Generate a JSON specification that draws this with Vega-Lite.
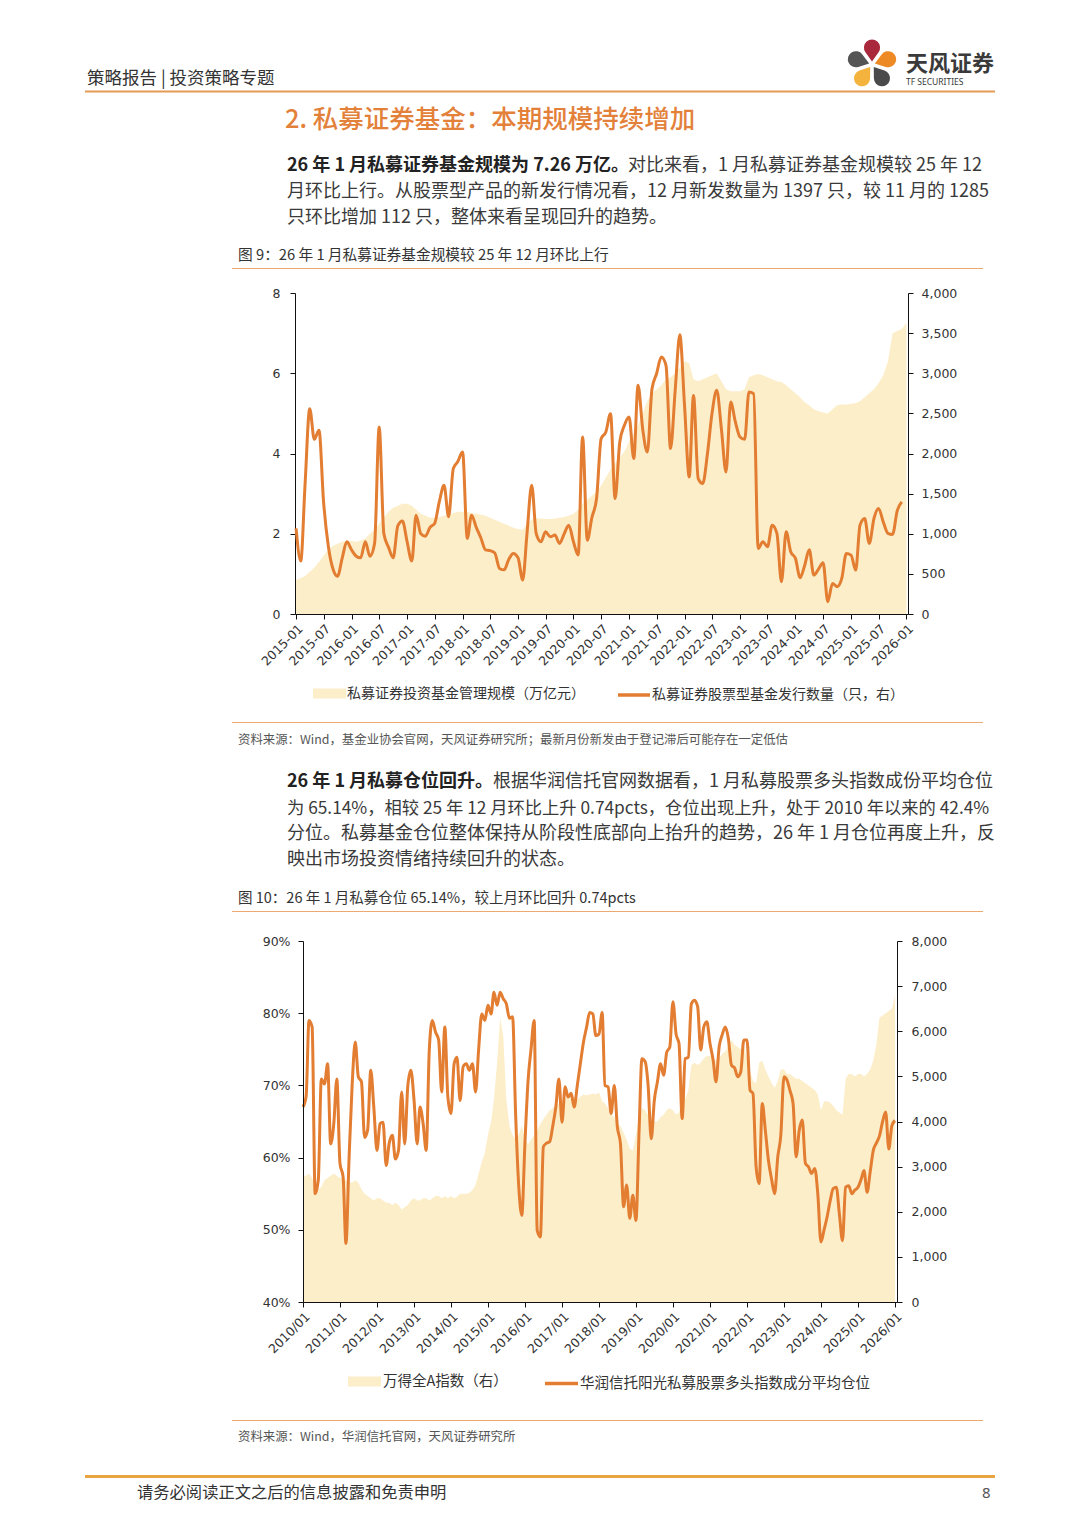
{
"$schema": "https://vega.github.io/schema/vega-lite/v6.json",
"padding": 0,
"background": "white",
"bounds": "flush",
"spacing": 0,
"config": {
  "view": {"stroke": null},
  "concat": {"spacing": 0},
  "font": "Noto Sans CJK SC",
  "title": {"anchor": "start", "frame": "group", "offset": 0, "font": "Noto Sans CJK SC", "color": "#333333", "fontWeight": "normal"},
  "axis": {"labelFont": "DejaVu Sans", "labelFontSize": 12.5, "labelColor": "#333333", "domainColor": "#111111", "tickColor": "#111111", "tickSize": 5, "title": null}
},
"resolve": {"scale": {"fill": "independent", "stroke": "independent", "color": "independent", "theta": "independent", "x": "independent", "y": "independent"}},
"vconcat": [
  {"width": 1080, "height": 38, "data": {"values": []}, "mark": "point"},
  {"width": 1080, "height": 53,
   "data": {"values": [
     {"petal": "a", "share": 1, "k": 1},
     {"petal": "b", "share": 1, "k": 2},
     {"petal": "c", "share": 1, "k": 3},
     {"petal": "d", "share": 1, "k": 4},
     {"petal": "e", "share": 1, "k": 5}
   ]},
   "mark": {"type": "arc", "outerRadius": 25, "innerRadius": 3, "padAngle": 0.16, "cornerRadius": 10},
   "encoding": {
     "x": {"datum": 1, "type": "quantitative", "scale": {"domain": [0, 2], "range": [822, 922]}, "axis": null},
     "theta": {"field": "share", "type": "quantitative", "stack": true, "scale": {"range": [-0.628, 5.655]}},
     "order": {"field": "k", "type": "quantitative"},
     "color": {"field": "petal", "type": "nominal", "legend": null,
               "scale": {"domain": ["a", "b", "c", "d", "e"], "range": ["#A9283B", "#EE8A26", "#4A4A4A", "#F3B33D", "#555555"]}}
   }},
  {"width": 1080, "height": 1, "data": {"values": [{}]},
   "mark": {"type": "rule", "color": "#E59A55", "strokeWidth": 2},
   "encoding": {"x": {"datum": 0, "type": "quantitative", "scale": {"domain": [0, 1], "range": [85, 995]}, "axis": null}, "x2": {"datum": 1}},
   "title": {"text": "天风证券", "subtitle": "TF SECURITIES", "dx": 906, "offset": 3, "fontSize": 22, "fontWeight": "bold", "color": "#3A3A3A",
             "subtitleFont": "Noto Sans", "subtitleFontSize": 8.5, "subtitleColor": "#3A3A3A", "subtitlePadding": 2}},
  {"width": 1080, "height": 43, "data": {"values": []}, "mark": "point",
   "title": {"text": "策略报告 | 投资策略专题", "dx": 87, "offset": 5, "fontSize": 17.5, "color": "#333333"}},
  {"width": 1080, "height": 40, "data": {"values": []}, "mark": "point",
   "title": {"text": "2. 私募证券基金：本期规模持续增加", "dx": 285, "offset": 2, "fontSize": 25.5, "fontWeight": 500, "color": "#E3813A"}},
  {"width": 1080, "height": 1, "data": {"values": []}, "mark": "point",
   "title": {"text": "26 年 1 月私募证券基金规模为 7.26 万亿。", "dx": 287, "offset": 0, "fontSize": 18, "fontWeight": "bold", "color": "#222222"}},
  {"width": 1080, "height": 51, "data": {"values": []}, "mark": "point",
   "title": {"text": "对比来看，1 月私募证券基金规模较 25 年 12", "dx": 628, "offset": 1, "fontSize": 18, "color": "#3A3A3A"}},
  {"width": 1080, "height": 41, "data": {"values": []}, "mark": "point",
   "title": {"text": ["月环比上行。从股票型产品的新发行情况看，12 月新发数量为 1397 只，较 11 月的 1285", "只环比增加 112 只，整体来看呈现回升的趋势。"],
             "dx": 287, "offset": 0, "fontSize": 18, "lineHeight": 26, "color": "#3A3A3A"}},
  {"width": 1080, "height": 1, "data": {"values": [{}]},
   "mark": {"type": "rule", "color": "#EDA970", "strokeWidth": 1},
   "encoding": {"x": {"datum": 0, "type": "quantitative", "scale": {"domain": [0, 1], "range": [232, 983]}, "axis": null}, "x2": {"datum": 1}},
   "title": {"text": "图 9：26 年 1 月私募证券基金规模较 25 年 12 月环比上行", "dx": 238, "offset": 5, "fontSize": 14.7, "color": "#333333"}},
  {"width": 1080, "height": 24, "data": {"values": []}, "mark": "point"},
  {"width": 908, "height": 321,
   "data": {"values": [
{"month":"2015-01-01","scale":0.85,"count":1066},{"month":"2015-02-01","scale":0.9,"count":659},{"month":"2015-03-01","scale":0.95,"count":1605},{"month":"2015-04-01","scale":1.05,"count":2559},{"month":"2015-05-01","scale":1.15,"count":2177},{"month":"2015-06-01","scale":1.3,"count":2289},{"month":"2015-07-01","scale":1.45,"count":1400},{"month":"2015-08-01","scale":1.6,"count":850},{"month":"2015-09-01","scale":1.7,"count":560},{"month":"2015-10-01","scale":1.75,"count":470},{"month":"2015-11-01","scale":1.8,"count":700},{"month":"2015-12-01","scale":1.82,"count":900},
{"month":"2016-01-01","scale":1.82,"count":800},{"month":"2016-02-01","scale":1.8,"count":720},{"month":"2016-03-01","scale":1.83,"count":700},{"month":"2016-04-01","scale":1.88,"count":900},{"month":"2016-05-01","scale":2.0,"count":720},{"month":"2016-06-01","scale":2.1,"count":880},{"month":"2016-07-01","scale":2.25,"count":2330},{"month":"2016-08-01","scale":2.4,"count":1000},{"month":"2016-09-01","scale":2.55,"count":830},{"month":"2016-10-01","scale":2.65,"count":700},{"month":"2016-11-01","scale":2.7,"count":1100},{"month":"2016-12-01","scale":2.75,"count":1160},
{"month":"2017-01-01","scale":2.75,"count":900},{"month":"2017-02-01","scale":2.7,"count":659},{"month":"2017-03-01","scale":2.6,"count":1232},{"month":"2017-04-01","scale":2.5,"count":1000},{"month":"2017-05-01","scale":2.45,"count":970},{"month":"2017-06-01","scale":2.4,"count":1080},{"month":"2017-07-01","scale":2.4,"count":1128},{"month":"2017-08-01","scale":2.42,"count":1400},{"month":"2017-09-01","scale":2.45,"count":1605},{"month":"2017-10-01","scale":2.48,"count":1211},{"month":"2017-11-01","scale":2.52,"count":1812},{"month":"2017-12-01","scale":2.55,"count":1900},
{"month":"2018-01-01","scale":2.55,"count":2019},{"month":"2018-02-01","scale":2.55,"count":942},{"month":"2018-03-01","scale":2.52,"count":1232},{"month":"2018-04-01","scale":2.5,"count":1080},{"month":"2018-05-01","scale":2.48,"count":950},{"month":"2018-06-01","scale":2.45,"count":800},{"month":"2018-07-01","scale":2.4,"count":790},{"month":"2018-08-01","scale":2.35,"count":760},{"month":"2018-09-01","scale":2.3,"count":568},{"month":"2018-10-01","scale":2.25,"count":550},{"month":"2018-11-01","scale":2.2,"count":680},{"month":"2018-12-01","scale":2.15,"count":755},
{"month":"2019-01-01","scale":2.12,"count":700},{"month":"2019-02-01","scale":2.1,"count":423},{"month":"2019-03-01","scale":2.25,"count":1000},{"month":"2019-04-01","scale":2.35,"count":1605},{"month":"2019-05-01","scale":2.38,"count":1000},{"month":"2019-06-01","scale":2.38,"count":900},{"month":"2019-07-01","scale":2.37,"count":1024},{"month":"2019-08-01","scale":2.37,"count":962},{"month":"2019-09-01","scale":2.38,"count":983},{"month":"2019-10-01","scale":2.4,"count":879},{"month":"2019-11-01","scale":2.42,"count":1000},{"month":"2019-12-01","scale":2.45,"count":1107},
{"month":"2020-01-01","scale":2.5,"count":900},{"month":"2020-02-01","scale":2.6,"count":734},{"month":"2020-03-01","scale":2.75,"count":2206},{"month":"2020-04-01","scale":2.85,"count":920},{"month":"2020-05-01","scale":2.95,"count":1200},{"month":"2020-06-01","scale":3.05,"count":1439},{"month":"2020-07-01","scale":3.2,"count":2185},{"month":"2020-08-01","scale":3.4,"count":2268},{"month":"2020-09-01","scale":3.6,"count":2496},{"month":"2020-10-01","scale":3.75,"count":1439},{"month":"2020-11-01","scale":3.9,"count":2144},{"month":"2020-12-01","scale":4.05,"count":2350},
{"month":"2021-01-01","scale":4.3,"count":2455},{"month":"2021-02-01","scale":4.5,"count":1937},{"month":"2021-03-01","scale":4.7,"count":2849},{"month":"2021-04-01","scale":5.0,"count":2300},{"month":"2021-05-01","scale":5.3,"count":2019},{"month":"2021-06-01","scale":5.5,"count":2808},{"month":"2021-07-01","scale":5.6,"count":2994},{"month":"2021-08-01","scale":5.7,"count":3201},{"month":"2021-09-01","scale":5.85,"count":3098},{"month":"2021-10-01","scale":5.9,"count":2061},{"month":"2021-11-01","scale":6.0,"count":2800},{"month":"2021-12-01","scale":6.15,"count":3479},
{"month":"2022-01-01","scale":6.3,"count":2600},{"month":"2022-02-01","scale":6.25,"count":1708},{"month":"2022-03-01","scale":5.85,"count":2724},{"month":"2022-04-01","scale":5.8,"count":1688},{"month":"2022-05-01","scale":5.85,"count":1626},{"month":"2022-06-01","scale":5.9,"count":2000},{"month":"2022-07-01","scale":5.95,"count":2500},{"month":"2022-08-01","scale":6.0,"count":2787},{"month":"2022-09-01","scale":5.8,"count":2300},{"month":"2022-10-01","scale":5.6,"count":1770},{"month":"2022-11-01","scale":5.55,"count":2641},{"month":"2022-12-01","scale":5.55,"count":2400},
{"month":"2023-01-01","scale":5.55,"count":2206},{"month":"2023-02-01","scale":5.6,"count":2177},{"month":"2023-03-01","scale":5.9,"count":2766},{"month":"2023-04-01","scale":5.95,"count":2745},{"month":"2023-05-01","scale":5.98,"count":817},{"month":"2023-06-01","scale":5.95,"count":900},{"month":"2023-07-01","scale":5.9,"count":837},{"month":"2023-08-01","scale":5.85,"count":1107},{"month":"2023-09-01","scale":5.8,"count":1004},{"month":"2023-10-01","scale":5.78,"count":402},{"month":"2023-11-01","scale":5.7,"count":1024},{"month":"2023-12-01","scale":5.6,"count":775},
{"month":"2024-01-01","scale":5.5,"count":693},{"month":"2024-02-01","scale":5.4,"count":452},{"month":"2024-03-01","scale":5.28,"count":600},{"month":"2024-04-01","scale":5.2,"count":800},{"month":"2024-05-01","scale":5.1,"count":485},{"month":"2024-06-01","scale":5.05,"count":560},{"month":"2024-07-01","scale":5.02,"count":640},{"month":"2024-08-01","scale":5.0,"count":153},{"month":"2024-09-01","scale":5.1,"count":381},{"month":"2024-10-01","scale":5.2,"count":340},{"month":"2024-11-01","scale":5.22,"count":444},{"month":"2024-12-01","scale":5.22,"count":755},
{"month":"2025-01-01","scale":5.24,"count":734},{"month":"2025-02-01","scale":5.25,"count":547},{"month":"2025-03-01","scale":5.3,"count":1107},{"month":"2025-04-01","scale":5.4,"count":1190},{"month":"2025-05-01","scale":5.5,"count":879},{"month":"2025-06-01","scale":5.6,"count":1190},{"month":"2025-07-01","scale":5.75,"count":1315},{"month":"2025-08-01","scale":5.95,"count":1148},{"month":"2025-09-01","scale":6.3,"count":1004},{"month":"2025-10-01","scale":7.0,"count":991},{"month":"2025-11-01","scale":7.05,"count":1285},{"month":"2025-12-01","scale":7.1,"count":1397},
{"month":"2026-01-01","scale":7.26,"count":null}
   ]},
   "encoding": {
     "x": {"field": "month", "type": "temporal",
           "scale": {"type": "utc", "domain": [{"year": 2014, "month": 12, "date": 25, "utc": true}, {"year": 2026, "month": 1, "date": 11, "utc": true}], "range": [295, 908]},
           "axis": {"values": [
             {"year":2015,"month":1,"date":1,"utc":true},{"year":2015,"month":7,"date":1,"utc":true},
             {"year":2016,"month":1,"date":1,"utc":true},{"year":2016,"month":7,"date":1,"utc":true},
             {"year":2017,"month":1,"date":1,"utc":true},{"year":2017,"month":7,"date":1,"utc":true},
             {"year":2018,"month":1,"date":1,"utc":true},{"year":2018,"month":7,"date":1,"utc":true},
             {"year":2019,"month":1,"date":1,"utc":true},{"year":2019,"month":7,"date":1,"utc":true},
             {"year":2020,"month":1,"date":1,"utc":true},{"year":2020,"month":7,"date":1,"utc":true},
             {"year":2021,"month":1,"date":1,"utc":true},{"year":2021,"month":7,"date":1,"utc":true},
             {"year":2022,"month":1,"date":1,"utc":true},{"year":2022,"month":7,"date":1,"utc":true},
             {"year":2023,"month":1,"date":1,"utc":true},{"year":2023,"month":7,"date":1,"utc":true},
             {"year":2024,"month":1,"date":1,"utc":true},{"year":2024,"month":7,"date":1,"utc":true},
             {"year":2025,"month":1,"date":1,"utc":true},{"year":2025,"month":7,"date":1,"utc":true},
             {"year":2026,"month":1,"date":1,"utc":true}],
             "format": "%Y-%m", "labelAngle": -45, "labelAlign": "right", "labelBaseline": "top",
             "labelOverlap": false, "labelFlush": false, "labelPadding": 3, "grid": false, "zindex": 1, "title": null}}
   },
   "layer": [
     {"data": {"values": [{"g": 2}, {"g": 4}, {"g": 6}, {"g": 8}]},
      "mark": {"type": "rule", "color": "#D2D2D2", "strokeDash": [6, 4], "strokeWidth": 1},
      "encoding": {
        "x": {"datum": {"year": 2014, "month": 12, "date": 25, "utc": true}, "type": "temporal"},
        "x2": {"datum": {"year": 2026, "month": 1, "date": 11, "utc": true}},
        "y": {"field": "g", "type": "quantitative", "scale": {"domain": [0, 8]}, "axis": null}
      }},
     {"mark": {"type": "area", "opacity": 1},
      "encoding": {
        "y": {"field": "scale", "type": "quantitative", "scale": {"domain": [0, 8]},
              "axis": {"orient": "left", "offset": -295, "values": [0, 2, 4, 6, 8], "title": null, "grid": false, "labelPadding": 10}},
        "fill": {"datum": "私募证券投资基金管理规模（万亿元）", "type": "nominal", "scale": {"range": ["#FDEECA"]},
                 "legend": {"orient": "none", "legendX": 313, "legendY": 384, "title": null, "padding": 0,
                            "symbolType": "M-1,-0.3H1V0.3H-1Z", "symbolSize": 1089, "symbolStrokeWidth": 0,
                            "labelFont": "Noto Sans CJK SC", "labelFontSize": 14, "labelColor": "#333333", "labelOffset": 1, "labelLimit": 500}}
      }},
     {"mark": {"type": "line", "interpolate": "monotone", "strokeWidth": 3},
      "encoding": {
        "y": {"field": "count", "type": "quantitative", "scale": {"domain": [0, 4000]},
              "axis": {"orient": "right", "values": [0, 500, 1000, 1500, 2000, 2500, 3000, 3500, 4000], "format": ",.0f", "title": null, "grid": false, "labelPadding": 8, "zindex": 1}},
        "stroke": {"datum": "私募证券股票型基金发行数量（只，右）", "type": "nominal", "scale": {"range": ["#E27D32"]},
                   "legend": {"orient": "none", "legendX": 616, "legendY": 384, "title": null, "padding": 0,
                              "symbolType": "stroke", "symbolSize": 1024, "symbolStrokeWidth": 3.5,
                              "labelFont": "Noto Sans CJK SC", "labelFontSize": 14, "labelColor": "#333333", "labelOffset": 0, "labelLimit": 500}}
      }}
   ],
   "resolve": {"scale": {"y": "independent"}}
  },
  {"width": 1080, "height": 108, "data": {"values": []}, "mark": "point"},
  {"width": 1080, "height": 1, "data": {"values": [{}]},
   "mark": {"type": "rule", "color": "#EDA970", "strokeWidth": 1},
   "encoding": {"x": {"datum": 0, "type": "quantitative", "scale": {"domain": [0, 1], "range": [232, 983]}, "axis": null}, "x2": {"datum": 1}}},
  {"width": 1080, "height": 23, "data": {"values": []}, "mark": "point"},
  {"width": 1080, "height": 45, "data": {"values": []}, "mark": "point",
   "title": {"text": "资料来源：Wind，基金业协会官网，天风证券研究所；最新月份新发由于登记滞后可能存在一定低估", "dx": 238, "offset": 0, "fontSize": 12.4, "color": "#555555"}},
  {"width": 1080, "height": 1, "data": {"values": []}, "mark": "point",
   "title": {"text": "26 年 1 月私募仓位回升。", "dx": 287, "offset": 0, "fontSize": 18, "fontWeight": "bold", "color": "#222222"}},
  {"width": 1080, "height": 25, "data": {"values": []}, "mark": "point",
   "title": {"text": "根据华润信托官网数据看，1 月私募股票多头指数成份平均仓位", "dx": 493, "offset": 1, "fontSize": 18, "color": "#3A3A3A"}},
  {"width": 1080, "height": 26, "data": {"values": []}, "mark": "point",
   "title": {"text": "为 65.14%，相较 25 年 12 月环比上升 0.74pcts，仓位出现上升，处于 2010 年以来的 42.4%", "dx": 287, "offset": 0, "fontSize": 17.3, "color": "#3A3A3A"}},
  {"width": 1080, "height": 26, "data": {"values": []}, "mark": "point",
   "title": {"text": "分位。私募基金仓位整体保持从阶段性底部向上抬升的趋势，26 年 1 月仓位再度上升，反", "dx": 287, "offset": 0, "fontSize": 18, "color": "#3A3A3A"}},
  {"width": 1080, "height": 42, "data": {"values": []}, "mark": "point",
   "title": {"text": "映出市场投资情绪持续回升的状态。", "dx": 287, "offset": 0, "fontSize": 18, "color": "#3A3A3A"}},
  {"width": 1080, "height": 1, "data": {"values": [{}]},
   "mark": {"type": "rule", "color": "#EDA970", "strokeWidth": 1},
   "encoding": {"x": {"datum": 0, "type": "quantitative", "scale": {"domain": [0, 1], "range": [232, 983]}, "axis": null}, "x2": {"datum": 1}},
   "title": {"text": "图 10：26 年 1 月私募仓位 65.14%，较上月环比回升 0.74pcts", "dx": 238, "offset": 5, "fontSize": 14.5, "color": "#333333"}},
  {"width": 1080, "height": 29, "data": {"values": []}, "mark": "point"},
  {"width": 897, "height": 361,
   "data": {"values": [
{"month":"2010-01-01","index":2800,"position":67.0},{"month":"2010-02-01","index":2800,"position":68.5},{"month":"2010-03-01","index":2850,"position":79.0},{"month":"2010-04-01","index":2750,"position":78.1},{"month":"2010-05-01","index":2550,"position":55.0},{"month":"2010-06-01","index":2500,"position":56.9},{"month":"2010-07-01","index":2550,"position":70.9},{"month":"2010-08-01","index":2700,"position":70.2},{"month":"2010-09-01","index":2750,"position":73.0},{"month":"2010-10-01","index":2800,"position":61.9},{"month":"2010-11-01","index":2850,"position":64.7},{"month":"2010-12-01","index":2800,"position":70.9},
{"month":"2011-01-01","index":2750,"position":59.2},{"month":"2011-02-01","index":2750,"position":57.3},{"month":"2011-03-01","index":2700,"position":48.1},{"month":"2011-04-01","index":2650,"position":60.0},{"month":"2011-05-01","index":2650,"position":70.0},{"month":"2011-06-01","index":2700,"position":76.0},{"month":"2011-07-01","index":2650,"position":71.2},{"month":"2011-08-01","index":2500,"position":70.5},{"month":"2011-09-01","index":2400,"position":62.8},{"month":"2011-10-01","index":2350,"position":63.8},{"month":"2011-11-01","index":2300,"position":72.1},{"month":"2011-12-01","index":2250,"position":67.0},
{"month":"2012-01-01","index":2300,"position":61.0},{"month":"2012-02-01","index":2300,"position":64.7},{"month":"2012-03-01","index":2250,"position":64.9},{"month":"2012-04-01","index":2200,"position":58.9},{"month":"2012-05-01","index":2200,"position":62.0},{"month":"2012-06-01","index":2150,"position":63.1},{"month":"2012-07-01","index":2200,"position":59.8},{"month":"2012-08-01","index":2150,"position":61.0},{"month":"2012-09-01","index":2050,"position":69.1},{"month":"2012-10-01","index":2100,"position":61.9},{"month":"2012-11-01","index":2150,"position":70.0},{"month":"2012-12-01","index":2250,"position":72.1},
{"month":"2013-01-01","index":2300,"position":68.0},{"month":"2013-02-01","index":2250,"position":61.9},{"month":"2013-03-01","index":2250,"position":67.0},{"month":"2013-04-01","index":2300,"position":64.7},{"month":"2013-05-01","index":2300,"position":61.0},{"month":"2013-06-01","index":2250,"position":75.0},{"month":"2013-07-01","index":2300,"position":79.0},{"month":"2013-08-01","index":2350,"position":77.4},{"month":"2013-09-01","index":2350,"position":76.3},{"month":"2013-10-01","index":2300,"position":69.1},{"month":"2013-11-01","index":2350,"position":78.1},{"month":"2013-12-01","index":2300,"position":68.4},
{"month":"2014-01-01","index":2350,"position":66.1},{"month":"2014-02-01","index":2300,"position":73.0},{"month":"2014-03-01","index":2330,"position":73.9},{"month":"2014-04-01","index":2400,"position":67.9},{"month":"2014-05-01","index":2400,"position":72.6},{"month":"2014-06-01","index":2400,"position":73.0},{"month":"2014-07-01","index":2420,"position":72.1},{"month":"2014-08-01","index":2480,"position":73.0},{"month":"2014-09-01","index":2600,"position":69.1},{"month":"2014-10-01","index":2850,"position":75.0},{"month":"2014-11-01","index":3100,"position":79.9},{"month":"2014-12-01","index":3300,"position":79.0},
{"month":"2015-01-01","index":3700,"position":81.1},{"month":"2015-02-01","index":4000,"position":79.9},{"month":"2015-03-01","index":4500,"position":82.9},{"month":"2015-04-01","index":5300,"position":81.1},{"month":"2015-05-01","index":6300,"position":82.9},{"month":"2015-06-01","index":5900,"position":82.0},{"month":"2015-07-01","index":4500,"position":81.3},{"month":"2015-08-01","index":3900,"position":79.3},{"month":"2015-09-01","index":3700,"position":79.5},{"month":"2015-10-01","index":3600,"position":66.0},{"month":"2015-11-01","index":3700,"position":56.0},{"month":"2015-12-01","index":3900,"position":52.0},
{"month":"2016-01-01","index":3600,"position":62.0},{"month":"2016-02-01","index":3500,"position":70.7},{"month":"2016-03-01","index":3600,"position":75.0},{"month":"2016-04-01","index":3700,"position":79.0},{"month":"2016-05-01","index":3800,"position":49.9},{"month":"2016-06-01","index":3950,"position":49.0},{"month":"2016-07-01","index":4050,"position":61.5},{"month":"2016-08-01","index":4150,"position":62.0},{"month":"2016-09-01","index":4250,"position":62.2},{"month":"2016-10-01","index":4300,"position":64.3},{"month":"2016-11-01","index":4350,"position":67.0},{"month":"2016-12-01","index":4400,"position":70.9},
{"month":"2017-01-01","index":4450,"position":64.9},{"month":"2017-02-01","index":4500,"position":69.8},{"month":"2017-03-01","index":4550,"position":68.4},{"month":"2017-04-01","index":4550,"position":68.9},{"month":"2017-05-01","index":4550,"position":67.0},{"month":"2017-06-01","index":4500,"position":70.0},{"month":"2017-07-01","index":4550,"position":73.0},{"month":"2017-08-01","index":4600,"position":76.0},{"month":"2017-09-01","index":4580,"position":78.1},{"month":"2017-10-01","index":4600,"position":80.1},{"month":"2017-11-01","index":4620,"position":79.9},{"month":"2017-12-01","index":4600,"position":76.9},
{"month":"2018-01-01","index":4650,"position":77.1},{"month":"2018-02-01","index":4450,"position":80.1},{"month":"2018-03-01","index":4400,"position":70.0},{"month":"2018-04-01","index":4300,"position":69.8},{"month":"2018-05-01","index":4150,"position":66.1},{"month":"2018-06-01","index":4100,"position":70.0},{"month":"2018-07-01","index":3950,"position":64.3},{"month":"2018-08-01","index":3900,"position":61.9},{"month":"2018-09-01","index":3750,"position":53.2},{"month":"2018-10-01","index":3600,"position":56.2},{"month":"2018-11-01","index":3400,"position":51.6},{"month":"2018-12-01","index":3350,"position":54.8},
{"month":"2019-01-01","index":3700,"position":51.3},{"month":"2019-02-01","index":4100,"position":63.8},{"month":"2019-03-01","index":4300,"position":73.7},{"month":"2019-04-01","index":4250,"position":73.3},{"month":"2019-05-01","index":4150,"position":70.0},{"month":"2019-06-01","index":3950,"position":62.6},{"month":"2019-07-01","index":4000,"position":67.9},{"month":"2019-08-01","index":4000,"position":70.5},{"month":"2019-09-01","index":4100,"position":73.0},{"month":"2019-10-01","index":4150,"position":71.4},{"month":"2019-11-01","index":4250,"position":74.6},{"month":"2019-12-01","index":4300,"position":75.3},
{"month":"2020-01-01","index":4250,"position":81.6},{"month":"2020-02-01","index":4150,"position":77.1},{"month":"2020-03-01","index":4200,"position":75.8},{"month":"2020-04-01","index":4450,"position":65.4},{"month":"2020-05-01","index":4500,"position":73.7},{"month":"2020-06-01","index":4700,"position":73.9},{"month":"2020-07-01","index":5250,"position":81.3},{"month":"2020-08-01","index":5300,"position":81.8},{"month":"2020-09-01","index":5250,"position":80.9},{"month":"2020-10-01","index":5300,"position":74.9},{"month":"2020-11-01","index":5400,"position":78.1},{"month":"2020-12-01","index":5450,"position":78.8},
{"month":"2021-01-01","index":5450,"position":75.8},{"month":"2021-02-01","index":5400,"position":73.5},{"month":"2021-03-01","index":5350,"position":70.5},{"month":"2021-04-01","index":5400,"position":75.3},{"month":"2021-05-01","index":5500,"position":77.0},{"month":"2021-06-01","index":5550,"position":78.1},{"month":"2021-07-01","index":5700,"position":76.5},{"month":"2021-08-01","index":5800,"position":72.8},{"month":"2021-09-01","index":5700,"position":72.4},{"month":"2021-10-01","index":5650,"position":71.2},{"month":"2021-11-01","index":5600,"position":71.9},{"month":"2021-12-01","index":5650,"position":76.3},
{"month":"2022-01-01","index":5400,"position":76.3},{"month":"2022-02-01","index":5100,"position":69.3},{"month":"2022-03-01","index":4900,"position":68.9},{"month":"2022-04-01","index":4850,"position":58.7},{"month":"2022-05-01","index":5300,"position":56.4},{"month":"2022-06-01","index":5350,"position":67.5},{"month":"2022-07-01","index":5150,"position":63.8},{"month":"2022-08-01","index":5000,"position":59.6},{"month":"2022-09-01","index":4850,"position":57.0},{"month":"2022-10-01","index":4750,"position":55.0},{"month":"2022-11-01","index":4900,"position":60.1},{"month":"2022-12-01","index":5150,"position":63.1},
{"month":"2023-01-01","index":5150,"position":71.2},{"month":"2023-02-01","index":5050,"position":70.7},{"month":"2023-03-01","index":5050,"position":69.3},{"month":"2023-04-01","index":5000,"position":67.5},{"month":"2023-05-01","index":4950,"position":60.1},{"month":"2023-06-01","index":4950,"position":63.8},{"month":"2023-07-01","index":4900,"position":65.2},{"month":"2023-08-01","index":4850,"position":59.2},{"month":"2023-09-01","index":4800,"position":58.7},{"month":"2023-10-01","index":4750,"position":57.8},{"month":"2023-11-01","index":4700,"position":58.5},{"month":"2023-12-01","index":4600,"position":55.0},
{"month":"2024-01-01","index":4250,"position":48.3},{"month":"2024-02-01","index":4450,"position":50.0},{"month":"2024-03-01","index":4450,"position":51.7},{"month":"2024-04-01","index":4420,"position":54.0},{"month":"2024-05-01","index":4350,"position":55.7},{"month":"2024-06-01","index":4250,"position":55.9},{"month":"2024-07-01","index":4200,"position":52.2},{"month":"2024-08-01","index":4150,"position":48.5},{"month":"2024-09-01","index":4950,"position":55.9},{"month":"2024-10-01","index":5050,"position":56.1},{"month":"2024-11-01","index":5050,"position":55.0},{"month":"2024-12-01","index":5000,"position":55.5},
{"month":"2025-01-01","index":5050,"position":55.9},{"month":"2025-02-01","index":5050,"position":57.0},{"month":"2025-03-01","index":5000,"position":58.2},{"month":"2025-04-01","index":5050,"position":55.2},{"month":"2025-05-01","index":5150,"position":58.0},{"month":"2025-06-01","index":5350,"position":61.0},{"month":"2025-07-01","index":5700,"position":62.0},{"month":"2025-08-01","index":6300,"position":63.0},{"month":"2025-09-01","index":6350,"position":65.0},{"month":"2025-10-01","index":6400,"position":66.3},{"month":"2025-11-01","index":6450,"position":61.2},{"month":"2025-12-01","index":6500,"position":64.40},
{"month":"2026-01-01","index":6800,"position":65.14}
   ]},
   "encoding": {
     "x": {"field": "month", "type": "temporal",
           "scale": {"type": "utc", "domain": [{"year": 2010, "month": 1, "date": 1, "utc": true}, {"year": 2026, "month": 1, "date": 21, "utc": true}], "range": [303, 897]},
           "axis": {"values": [
             {"year":2010,"month":1,"date":1,"utc":true},{"year":2011,"month":1,"date":1,"utc":true},
             {"year":2012,"month":1,"date":1,"utc":true},{"year":2013,"month":1,"date":1,"utc":true},
             {"year":2014,"month":1,"date":1,"utc":true},{"year":2015,"month":1,"date":1,"utc":true},
             {"year":2016,"month":1,"date":1,"utc":true},{"year":2017,"month":1,"date":1,"utc":true},
             {"year":2018,"month":1,"date":1,"utc":true},{"year":2019,"month":1,"date":1,"utc":true},
             {"year":2020,"month":1,"date":1,"utc":true},{"year":2021,"month":1,"date":1,"utc":true},
             {"year":2022,"month":1,"date":1,"utc":true},{"year":2023,"month":1,"date":1,"utc":true},
             {"year":2024,"month":1,"date":1,"utc":true},{"year":2025,"month":1,"date":1,"utc":true},
             {"year":2026,"month":1,"date":1,"utc":true}],
             "format": "%Y/%m", "labelAngle": -45, "labelAlign": "right", "labelBaseline": "top",
             "labelOverlap": false, "labelFlush": false, "labelPadding": 3, "grid": false, "zindex": 1, "title": null}}
   },
   "layer": [
     {"data": {"values": [{"g": 50}, {"g": 60}, {"g": 70}, {"g": 80}, {"g": 90}]},
      "mark": {"type": "rule", "color": "#D2D2D2", "strokeDash": [6, 4], "strokeWidth": 1},
      "encoding": {
        "x": {"datum": {"year": 2010, "month": 1, "date": 1, "utc": true}, "type": "temporal"},
        "x2": {"datum": {"year": 2026, "month": 1, "date": 21, "utc": true}},
        "y": {"field": "g", "type": "quantitative", "scale": {"domain": [40, 90]}, "axis": null}
      }},
     {"mark": {"type": "area", "opacity": 1},
      "encoding": {
        "y": {"field": "index", "type": "quantitative", "scale": {"domain": [0, 8000]},
              "axis": {"orient": "right", "values": [0, 1000, 2000, 3000, 4000, 5000, 6000, 7000, 8000], "format": ",.0f", "title": null, "grid": false, "labelPadding": 9, "zindex": 1}},
        "fill": {"datum": "万得全A指数（右）", "type": "nominal", "scale": {"range": ["#FDEECA"]},
                 "legend": {"orient": "none", "legendX": 348, "legendY": 424, "title": null, "padding": 0,
                            "symbolType": "M-1,-0.3H1V0.3H-1Z", "symbolSize": 1089, "symbolStrokeWidth": 0,
                            "labelFont": "Noto Sans CJK SC", "labelFontSize": 14.5, "labelColor": "#333333", "labelOffset": 2, "labelLimit": 500}}
      }},
     {"mark": {"type": "line", "interpolate": "monotone", "strokeWidth": 3},
      "encoding": {
        "y": {"field": "position", "type": "quantitative", "scale": {"domain": [40, 90]},
              "axis": {"orient": "left", "offset": -303, "values": [40, 50, 60, 70, 80, 90], "labelExpr": "datum.value + '%'", "title": null,
                       "grid": false, "labelPadding": 8, "zindex": 1}},
        "stroke": {"datum": "华润信托阳光私募股票多头指数成分平均仓位", "type": "nominal", "scale": {"range": ["#E27D32"]},
                   "legend": {"orient": "none", "legendX": 543, "legendY": 424, "title": null, "padding": 0,
                              "symbolType": "stroke", "symbolSize": 1089, "symbolStrokeWidth": 3.5,
                              "labelFont": "Noto Sans CJK SC", "labelFontSize": 14.5, "labelColor": "#333333", "labelOffset": 0, "labelLimit": 500}}
      }}
   ],
   "resolve": {"scale": {"y": "independent"}}
  },
  {"width": 1080, "height": 118, "data": {"values": []}, "mark": "point"},
  {"width": 1080, "height": 1, "data": {"values": [{}]},
   "mark": {"type": "rule", "color": "#EDA970", "strokeWidth": 1},
   "encoding": {"x": {"datum": 0, "type": "quantitative", "scale": {"domain": [0, 1], "range": [232, 983]}, "axis": null}, "x2": {"datum": 1}}},
  {"width": 1080, "height": 22, "data": {"values": []}, "mark": "point"},
  {"width": 1080, "height": 33, "data": {"values": []}, "mark": "point",
   "title": {"text": "资料来源：Wind，华润信托官网，天风证券研究所", "dx": 238, "offset": 0, "fontSize": 12.4, "color": "#555555"}},
  {"width": 1080, "height": 1, "data": {"values": [{}]},
   "mark": {"type": "rule", "color": "#E8A43F", "strokeWidth": 3},
   "encoding": {"x": {"datum": 0, "type": "quantitative", "scale": {"domain": [0, 1], "range": [85, 995]}, "axis": null}, "x2": {"datum": 1}}},
  {"width": 1080, "height": 24, "data": {"values": []}, "mark": "point"},
  {"width": 1080, "height": 1, "data": {"values": []}, "mark": "point",
   "title": {"text": "请务必阅读正文之后的信息披露和免责申明", "dx": 137, "offset": 0, "fontSize": 16.3, "color": "#333333"}},
  {"width": 1080, "height": 25, "data": {"values": []}, "mark": "point",
   "title": {"text": "8", "dx": 982, "offset": 1, "fontSize": 15, "font": "Noto Sans", "color": "#555555"}}
]
}
